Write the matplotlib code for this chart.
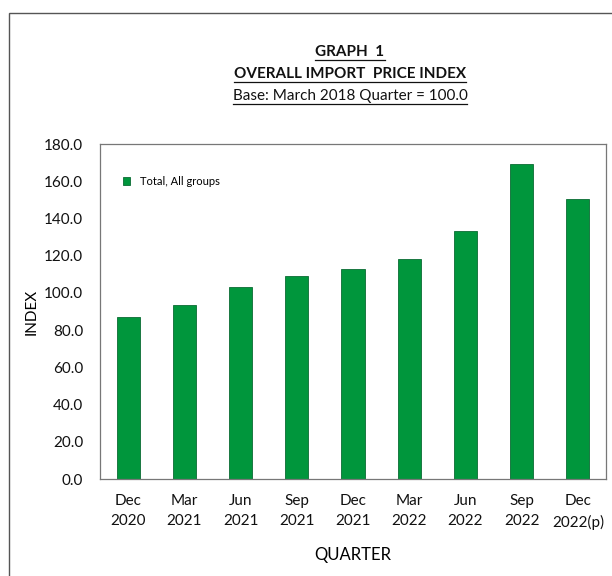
from matplotlib import pyplot as plt
from matplotlib.patches import Rectangle
from matplotlib.lines import Line2D
import numpy as np

plt.rcParams['font.family'] = ['Lato', 'DejaVu Sans']

# quarterly index values
quarters = ["Dec\n2020", "Mar\n2021", "Jun\n2021", "Sep\n2021", "Dec\n2021",
            "Mar\n2022", "Jun\n2022", "Sep\n2022", "Dec\n2022(p)"]
index_values = [87.2, 93.3, 103.0, 109.1, 112.7, 118.2, 133.3, 169.3, 150.5]
yticks = np.arange(0, 181, 20)

fig = plt.figure(figsize=(6.12, 5.76), dpi=100)
ax = fig.add_axes([0.1634, 0.1684, 0.8268, 0.5816])

x = np.arange(len(quarters))
ax.bar(x, index_values, width=0.41, color='#00963c', edgecolor='#0a6b33',
       linewidth=0.6, label='Total, All groups')

ax.set_xlim(-0.5, len(quarters) - 0.5)
ax.set_ylim(0, 180)
ax.set_yticks(yticks)
ax.set_yticklabels(["{:.1f}".format(v) for v in yticks])
ax.set_xticks(x)
ax.set_xticklabels(quarters, linespacing=1.55)
ax.tick_params(length=0, labelsize=11, colors='#111111')
ax.tick_params(axis='y', pad=12)
ax.tick_params(axis='x', pad=11)
for s in ax.spines.values():
    s.set_color('#777777')
    s.set_linewidth(0.9)

ax.set_ylabel("INDEX", fontsize=11, labelpad=4)
ax.set_xlabel("QUARTER", fontsize=12, labelpad=12)

ax.legend(loc='upper left', bbox_to_anchor=(0.025, 0.935), frameon=False,
          fontsize=8, handlelength=0.7, handleheight=0.7, handletextpad=0.9)

# titles with underline
titles = [("GRAPH  1", 'bold', 52), ("OVERALL IMPORT  PRICE INDEX", 'bold', 74),
          ("Base: March 2018 Quarter = 100.0", 'normal', 96)]
texts = []
for t, w, ypx in titles:
    texts.append(fig.text(350 / 612, 1 - ypx / 576, t, ha='center', va='center',
                          fontsize=11, fontweight=w, color='#111111'))

fig.canvas.draw()
r = fig.canvas.get_renderer()
for tx in texts:
    bb = tx.get_window_extent(renderer=r)
    yy = (bb.y0 - 1) / fig.bbox.height
    fig.add_artist(Line2D([bb.x0 / fig.bbox.width, bb.x1 / fig.bbox.width], [yy, yy],
                          color='#111111', linewidth=0.9))

# outer chart frame
fig.add_artist(Rectangle((9 / 612, -0.05), 1.0, 1 - 13 / 576 + 0.05,
                         transform=fig.transFigure, fill=False,
                         edgecolor='#555555', linewidth=1.0))

fig.savefig("out.png", dpi=100)
